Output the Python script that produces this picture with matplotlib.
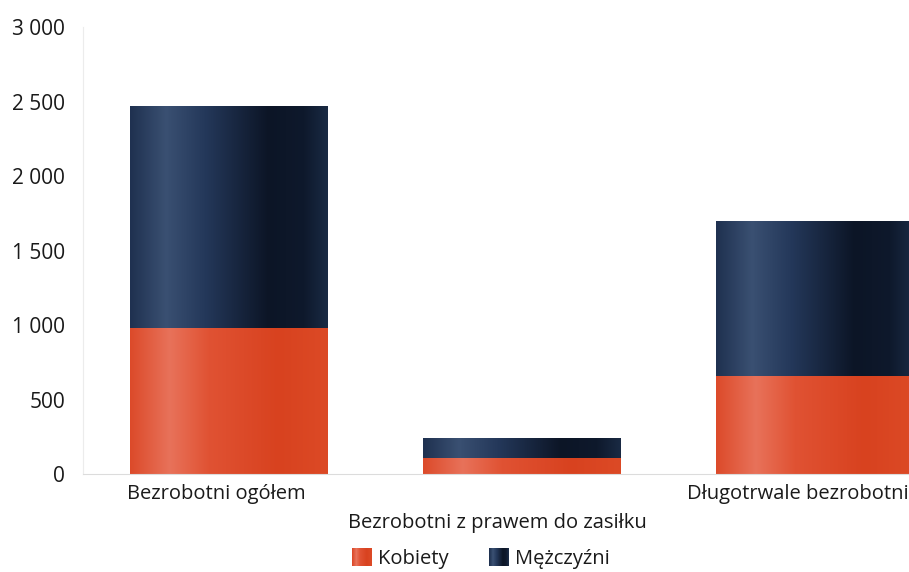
import matplotlib
matplotlib.use("Agg")
import matplotlib.pyplot as plt
import numpy as np
from matplotlib.colors import LinearSegmentedColormap
from matplotlib.patches import Patch, Rectangle
from matplotlib.legend_handler import HandlerBase

categories = ["Bezrobotni ogółem", "Bezrobotni z prawem do zasiłku", "Długotrwale bezrobotni"]
kobiety = [980, 107, 658]
mezczyzni = [1490, 135, 1040]
yticks = [0, 500, 1000, 1500, 2000, 2500, 3000]

plt.rcParams["font.family"] = ["Open Sans", "DejaVu Sans"]
TEXT = "#1a1a1a"

navy_cmap = LinearSegmentedColormap.from_list(
    "navy", [(0.0, "#1f3150"), (0.18, "#3a5072"), (0.38, "#24385a"),
             (0.7, "#0c1526"), (0.88, "#0e192c"), (1.0, "#1a2a44")])
orange_cmap = LinearSegmentedColormap.from_list(
    "orange", [(0.0, "#dc4a2a"), (0.2, "#e8725a"), (0.4, "#e05233"),
               (0.75, "#d8421f"), (1.0, "#dc4a26")])

fig = plt.figure(figsize=(9.09, 5.72), dpi=100)
ax = fig.add_axes([0.0913, 0.1713, 0.9087, 0.7815])

x = np.arange(len(categories))
width = 0.675
b1 = ax.bar(x, kobiety, width, color="#dc4a2a", label="Kobiety")
b2 = ax.bar(x, mezczyzni, width, bottom=kobiety, color="#172640", label="Mężczyźni")

grad = np.linspace(0, 1, 256).reshape(1, -1)


def shade(bars, cmap):
    for bar in bars:
        x0, y0 = bar.get_x(), bar.get_y()
        w, h = bar.get_width(), bar.get_height()
        im = ax.imshow(grad, cmap=cmap, aspect="auto",
                       extent=[x0, x0 + w, y0, y0 + h], zorder=bar.get_zorder() + 0.1)
        im.set_clip_path(bar)


shade(b1, orange_cmap)
shade(b2, navy_cmap)


class GradientHandler(HandlerBase):
    def __init__(self, cmap):
        super().__init__()
        self.cmap = cmap

    def create_artists(self, legend, orig_handle, xdescent, ydescent, width, height, fontsize, trans):
        n = 20
        arts = []
        for k in range(n):
            r = Rectangle((-xdescent + width * k / n, -ydescent), width / n + 0.3, height,
                          facecolor=self.cmap(k / (n - 1)), edgecolor="none", transform=trans)
            arts.append(r)
        return arts


ax.set_xlim(-0.498, 2.32)
ax.set_ylim(0, 3000)
ax.set_yticks(yticks)
ax.set_yticklabels([f"{v:,}".replace(",", " ") for v in yticks], fontsize=15, color=TEXT)
ax.tick_params(axis="y", length=0, pad=13)
ax.set_xticks([])

for s in ["top", "right"]:
    ax.spines[s].set_visible(False)
ax.spines["left"].set_color("#ececec")
ax.spines["bottom"].set_color("#dcdcdc")

# staggered category labels
label_x = [-0.044, -0.085, -0.06]
label_y = [-0.045, -0.11, -0.045]
for i, name in enumerate(categories):
    ax.text(i + label_x[i], label_y[i], name, transform=ax.get_xaxis_transform(),
            ha="center", va="center", fontsize=14.5, color=TEXT)

h_k = Patch(facecolor="#dc4a2a", label="Kobiety")
h_m = Patch(facecolor="#172640", label="Mężczyźni")
fig.legend(handles=[h_k, h_m], loc="center", bbox_to_anchor=(0.529, 0.024), ncol=2,
           frameon=False, fontsize=14.5, handlelength=1.0, handleheight=1.0,
           handletextpad=0.3, columnspacing=2.0,
           handler_map={h_k: GradientHandler(orange_cmap), h_m: GradientHandler(navy_cmap)})
for t in fig.legends[0].get_texts():
    t.set_color(TEXT)

fig.savefig("out.png", dpi=100)
